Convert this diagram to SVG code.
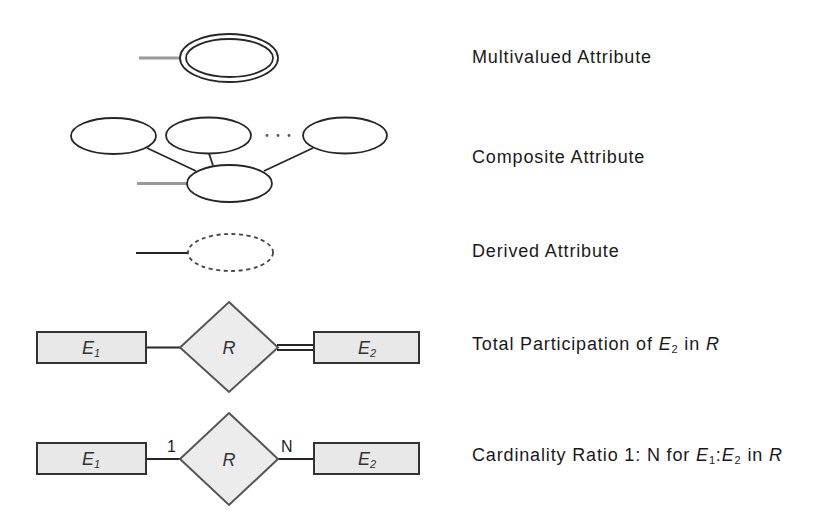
<svg xmlns="http://www.w3.org/2000/svg" width="833" height="524" viewBox="0 0 833 524">
<style>
  .attr { fill: #ffffff; stroke: #262626; stroke-width: 1.8; }
  .dashed { stroke-dasharray: 4 3.5; stroke: #444; }
  .gline { stroke: #9a9a9a; stroke-width: 3; fill: none; }
  .line { stroke: #262626; stroke-width: 1.8; fill: none; }
  .ent { fill: #e8e8e8; stroke: #333; stroke-width: 2; }
  .rel { fill: #ececec; stroke: #555; stroke-width: 2; }
  .lbl { font-family: "Liberation Sans", Arial, sans-serif; font-size: 18px; fill: #1a1a1a; letter-spacing: 0.85px; }
  .nm { font-family: "Liberation Sans", Arial, sans-serif; font-size: 18px; font-style: italic; fill: #333; text-anchor: middle; }
  .card { font-family: "Liberation Sans", Arial, sans-serif; font-size: 16px; fill: #222; }
  .sub { font-size: 11px; }
</style>
<rect width="833" height="524" fill="#ffffff"/>

<g id="connectors">
  <line class="gline" x1="139" y1="58" x2="180" y2="58"/>
  <line class="gline" x1="137" y1="183.5" x2="187" y2="183.5"/>
  <line class="line" x1="147" y1="148" x2="196" y2="171"/>
  <line class="line" x1="209" y1="153.5" x2="213" y2="165.5"/>
  <line class="line" x1="313" y1="148" x2="264" y2="171"/>
  <line class="line" x1="136" y1="253" x2="188" y2="253"/>
  <line class="line" x1="146" y1="347.5" x2="180" y2="347.5"/>
  <line class="line" x1="277" y1="345" x2="314" y2="345"/>
  <line class="line" x1="277" y1="350" x2="314" y2="350"/>
  <line class="line" x1="146" y1="459" x2="180" y2="459"/>
  <line class="line" x1="278" y1="459" x2="314" y2="459"/>
</g>

<g id="multivalued">
  <ellipse class="attr" cx="229" cy="58" rx="49" ry="24"/>
  <ellipse class="attr" cx="229.5" cy="58" rx="43.5" ry="19"/>
</g>

<g id="composite-a1"><ellipse class="attr" cx="113.5" cy="136" rx="42.5" ry="18"/></g>
<g id="composite-a2"><ellipse class="attr" cx="208.5" cy="135.5" rx="42.5" ry="18"/></g>
<g id="composite-dots">
  <circle cx="267" cy="135.5" r="1.4" fill="#555"/>
  <circle cx="278" cy="135.5" r="1.4" fill="#555"/>
  <circle cx="289" cy="135.5" r="1.4" fill="#555"/>
</g>
<g id="composite-an"><ellipse class="attr" cx="345" cy="135.5" rx="42" ry="18"/></g>
<g id="composite"><ellipse class="attr" cx="229.5" cy="183.5" rx="42.5" ry="18.5"/></g>

<g id="derived"><ellipse class="attr dashed" cx="230.5" cy="252.5" rx="42.5" ry="18.5"/></g>

<g id="tp-e1">
  <rect class="ent" x="37" y="332" width="109" height="31"/>
  <text class="nm" x="91" y="354">E<tspan class="sub" dy="3">1</tspan></text>
</g>
<g id="tp-r">
  <polygon class="rel" points="229,302 278,347.5 229,392 180,347.5"/>
  <text class="nm" x="229" y="354">R</text>
</g>
<g id="tp-e2">
  <rect class="ent" x="314" y="332" width="105" height="31"/>
  <text class="nm" x="367" y="354">E<tspan class="sub" dy="3">2</tspan></text>
</g>

<g id="cr-e1">
  <rect class="ent" x="37" y="443" width="109" height="31"/>
  <text class="nm" x="91" y="465">E<tspan class="sub" dy="3">1</tspan></text>
</g>
<g id="cr-r">
  <polygon class="rel" points="229,413 278,459 229,505 180,459"/>
  <text class="nm" x="229" y="466">R</text>
</g>
<g id="cr-e2">
  <rect class="ent" x="314" y="443" width="105" height="31"/>
  <text class="nm" x="367" y="465">E<tspan class="sub" dy="3">2</tspan></text>
</g>
<g id="cardinality-labels">
  <text class="card" x="167" y="452">1</text>
  <text class="card" x="281" y="452">N</text>
</g>

<g id="legend">
  <text class="lbl" x="472" y="63">Multivalued Attribute</text>
  <text class="lbl" x="472" y="163">Composite Attribute</text>
  <text class="lbl" x="472" y="257">Derived Attribute</text>
  <text class="lbl" x="472" y="350">Total Participation of <tspan font-style="italic">E</tspan><tspan class="sub" dy="3">2</tspan><tspan dy="-3"> in </tspan><tspan font-style="italic">R</tspan></text>
  <text class="lbl" x="472" y="461">Cardinality Ratio 1: N for <tspan font-style="italic">E</tspan><tspan class="sub" dy="3">1</tspan><tspan dy="-3">:</tspan><tspan font-style="italic">E</tspan><tspan class="sub" dy="3">2</tspan><tspan dy="-3"> in </tspan><tspan font-style="italic">R</tspan></text>
</g>
</svg>
